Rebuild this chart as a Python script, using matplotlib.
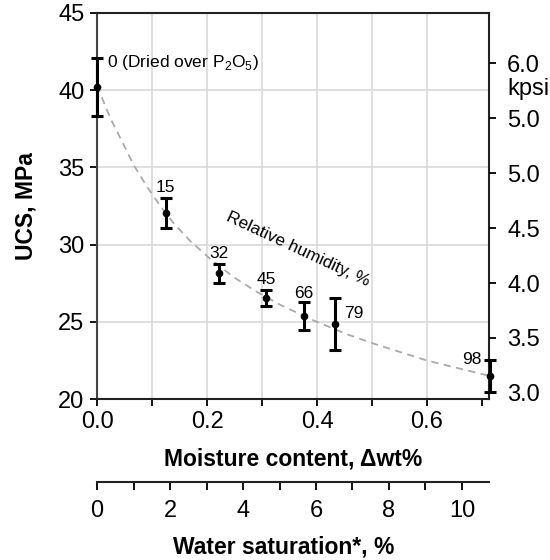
import numpy as np
import matplotlib
matplotlib.use('Agg')
import matplotlib.pyplot as plt
from matplotlib.ticker import MultipleLocator

plt.rcParams['font.family'] = ['Liberation Sans', 'DejaVu Sans']
plt.rcParams['mathtext.fontset'] = 'custom'
plt.rcParams['mathtext.rm'] = 'Liberation Sans'

# UCS measured at each relative humidity
rh_labels = ['0 (Dried over P$_\\mathregular{2}$O$_\\mathregular{5}$)',
             '15', '32', '45', '66', '79', '98']
moisture = [0.0, 0.125, 0.221, 0.307, 0.376, 0.432, 0.714]
ucs = [40.2, 32.05, 28.15, 26.55, 25.35, 24.85, 21.5]
ucs_err = [1.9, 0.95, 0.62, 0.5, 0.9, 1.7, 1.03]

# dashed trend through the points
trend_x = [0.0, 0.024, 0.048, 0.066, 0.090, 0.115, 0.139, 0.169, 0.205,
           0.248, 0.290, 0.333, 0.393, 0.454, 0.502, 0.599, 0.713]
trend_y = [40.3, 38.2, 36.5, 35.2, 33.8, 32.5, 31.4, 30.25, 29.1,
           27.9, 26.95, 26.1, 25.1, 24.2, 23.6, 22.5, 21.5]

# axis ticks
x_ticks = [0.0, 0.1, 0.2, 0.3, 0.4, 0.5, 0.6, 0.7]
x_ticklabels = ['0.0', '', '0.2', '', '0.4', '', '0.6', '']
y_ticks = [20, 25, 30, 35, 40, 45]
kpsi_ticks = [3.0, 3.5, 4.0, 4.5, 5.0, 5.5, 6.0]
kpsi_labels = ['3.0', '3.5', '4.0', '4.5', '5.0', '5.0', '6.0']
sat_ticks = [0, 2, 4, 6, 8, 10]
sat_per_moisture = 15.07  # water saturation % per wt% moisture

# label offsets (points) and alignment for each humidity label
label_offsets = [(7, 18), (0, 18), (0, 14.5), (0, 13), (0, 16.5), (6.5, 7.5), (-6, 11.5)]
label_ha = ['left', 'center', 'center', 'center', 'center', 'left', 'right']

TICK_FS = 17
LABEL_FS = 16.5
NOTE_FS = 12.5

fig = plt.figure(figsize=(5.5, 5.6), dpi=100)
ax = fig.add_axes([0.1764, 0.2875, 0.7127, 0.6893])

ax.set_xlim(0, 0.7127)
ax.set_ylim(20, 45)
ax.set_xticks(x_ticks, x_ticklabels)
ax.set_yticks(y_ticks)
ax.grid(True, color='#d9d9d9', lw=1.2, zorder=0)
ax.get_xgridlines()[-1].set_visible(False)
ax.set_axisbelow(True)
ax.tick_params(labelsize=TICK_FS, length=5, width=1.3, direction='out', pad=4)
for s in ax.spines.values():
    s.set_linewidth(1.5)
    s.set_color('#222222')
ax.spines['left'].set_color('#444444')

ax.plot(trend_x, trend_y, color='#aaaaaa', lw=1.3, ls=(0, (4, 3)), zorder=3)

eb = ax.errorbar(moisture, ucs, yerr=ucs_err, fmt='o', color='black', ms=4.5,
                 elinewidth=2.2, capsize=4.5, capthick=2.2, zorder=5)
for art in eb.get_children():
    art.set_clip_on(False)

for lab, x, y, off, ha in zip(rh_labels, moisture, ucs, label_offsets, label_ha):
    ax.annotate(lab, (x, y), xytext=off, textcoords='offset points',
                ha=ha, va='center', fontsize=NOTE_FS, annotation_clip=False)

ax.text(0.365, 29.7, 'Relative humidity, %', rotation=-25, fontsize=NOTE_FS,
        ha='center', va='center', rotation_mode='anchor')

ax.set_xlabel('Moisture content, \u0394wt%', fontsize=LABEL_FS, fontweight='bold',
              labelpad=10)
ax.set_ylabel('UCS, MPa', fontsize=LABEL_FS, fontweight='bold', labelpad=15)

# kpsi scale on the right
ax2 = ax.twinx()
ax2.set_ylim(2.945, 6.456)
ax2.set_yticks(kpsi_ticks, kpsi_labels)
ax2.tick_params(labelsize=TICK_FS, length=5, width=1.3, pad=8)
for s in ax2.spines.values():
    s.set_visible(False)
ax2.annotate('kpsi', (1, 6.0), xycoords=('axes fraction', 'data'),
             xytext=(13, -11), textcoords='offset points', ha='left', va='top',
             fontsize=TICK_FS)

# water saturation scale below
sec = ax.secondary_xaxis(-0.215, functions=(lambda m: m * sat_per_moisture,
                                            lambda s: s / sat_per_moisture))
sec.set_xticks(sat_ticks)
sec.xaxis.set_minor_locator(MultipleLocator(1))
sec.tick_params(which='both', labelsize=TICK_FS, length=6, width=1.3, pad=7)
sec.spines['bottom'].set_linewidth(1.5)
sec.spines['bottom'].set_color('#222222')
sec.set_xlabel('Water saturation*, %', fontsize=LABEL_FS, fontweight='bold',
               labelpad=10)
sec.xaxis.label.set_x(0.477)

fig.savefig('out.png', dpi=100)
